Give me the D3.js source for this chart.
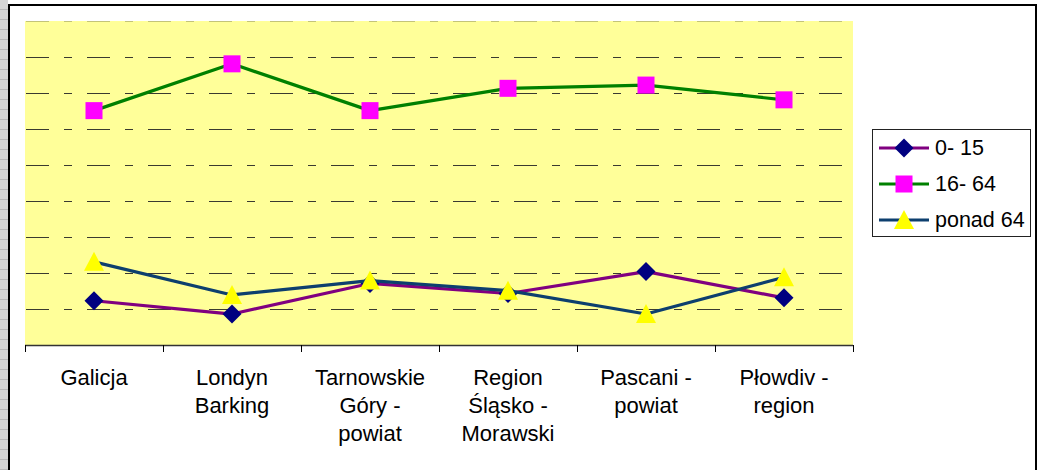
<!DOCTYPE html>
<html><head><meta charset="utf-8">
<script src="https://cdn.jsdelivr.net/npm/d3@7"></script>
<style>
body{margin:0;background:#fff;overflow:hidden;}
text{font-family:"Liberation Sans",Arial,sans-serif;fill:#000;}
</style>
</head><body><svg id="c" width="1040" height="470"></svg>
<script>
const categories = ["Galicja","Londyn Barking","Tarnowskie Góry - powiat","Region Śląsko - Morawski","Pascani - powiat","Płowdiv - region"];
const categoryLines = [["Galicja"],["Londyn","Barking"],["Tarnowskie","Góry -","powiat"],["Region","Śląsko -","Morawski"],["Pascani -","powiat"],["Płowdiv -","region"]];
const seriesNames = ["0- 15","16- 64","ponad 64"];
const values0_15 = [12.3, 8.6, 17.1, 14.3, 20.4, 13.1];
const values16_64 = [65.1, 78.1, 65.1, 71.3, 72.2, 68.1];
const valuesPonad64 = [23.1, 13.9, 17.9, 15.1, 8.6, 18.8];
const yTicks = [10,20,30,40,50,60,70,80,90];

const svg = d3.select("#c");
const plot = {l:25, t:21, r:853, b:345};

// spreadsheet strip at left
const pat = svg.append("defs").append("pattern").attr("id","grid").attr("width",8).attr("height",10).attr("patternUnits","userSpaceOnUse");
pat.append("rect").attr("width",8).attr("height",10).attr("fill","#d6d6d6");
pat.append("line").attr("x1",0).attr("x2",8).attr("y1",9.5).attr("y2",9.5).attr("stroke","#b8b8b8");
svg.append("rect").attr("x",0).attr("y",0).attr("width",8).attr("height",470).attr("fill","url(#grid)");

// chart frame
svg.append("rect").attr("x",9).attr("y",5).attr("width",1027).attr("height",480)
  .attr("fill","#fff").attr("stroke","#000").attr("stroke-width",2);

const x = d3.scaleBand().domain(categories).range([plot.l, plot.r]);
const y = d3.scaleLinear().domain([0,90]).range([plot.b, plot.t]);
const cx = c => x(c) + x.bandwidth()/2;

// plot area
svg.append("rect").attr("x",plot.l).attr("y",plot.t).attr("width",plot.r-plot.l).attr("height",plot.b-plot.t).attr("fill","#FFFF99");

// gridlines
svg.append("g").selectAll("line").data(yTicks).join("line")
  .attr("x1",plot.l+1).attr("x2",plot.r)
  .attr("y1",d=>Math.round(y(d))+0.5).attr("y2",d=>Math.round(y(d))+0.5)
  .attr("stroke","#3a3a30").attr("stroke-width",1.2)
  .attr("stroke-opacity",d=>d===90?0.3:1)
  .attr("stroke-dasharray","23,15,8,15");

// x axis
const axisG = svg.append("g").attr("transform",`translate(0,${plot.b})`);
axisG.append("line").attr("x1",plot.l).attr("x2",plot.r).attr("y1",0.5).attr("y2",0.5).attr("stroke","#333").attr("stroke-width",1.5);
const bounds = categories.map(c=>x(c)).concat([x(categories[categories.length-1])+x.bandwidth()]);
axisG.selectAll("line.tick").data(bounds).join("line").attr("class","tick")
  .attr("x1",d=>Math.round(d)+0.5).attr("x2",d=>Math.round(d)+0.5).attr("y1",0).attr("y2",7)
  .attr("stroke","#000").attr("stroke-width",1);
const lab = svg.append("g").selectAll("text").data(categories).join("text")
  .attr("x",d=>cx(d)).attr("y",385).attr("text-anchor","middle").attr("font-size",22);
lab.each(function(d,i){
  d3.select(this).selectAll("tspan").data(categoryLines[i]).join("tspan")
    .attr("x",cx(d)).attr("dy",(t,j)=>j===0?0:28).text(t=>t);
});

// markers
function diamond(g){ g.append("path").attr("d","M0,-9.5L9.5,0L0,9.5L-9.5,0Z").attr("fill","#000080"); }
function square(g){ g.append("rect").attr("x",-8.5).attr("y",-8.5).attr("width",17).attr("height",17).attr("fill","#FF00FF"); }
function triangle(g){ g.append("path").attr("d","M0,-10L10,9L-10,9Z").attr("fill","#FFFF00"); }

const series = [
  {name:seriesNames[0], vals:values0_15, line:"#800080", marker:diamond},
  {name:seriesNames[1], vals:values16_64, line:"#008000", marker:square},
  {name:seriesNames[2], vals:valuesPonad64, line:"#0D3F6E", marker:triangle}
];
const lineGen = d3.line().x((d,i)=>cx(categories[i])).y(d=>y(d));
series.forEach(s=>{
  svg.append("path").attr("d",lineGen(s.vals)).attr("fill","none").attr("stroke",s.line).attr("stroke-width",3.2).attr("stroke-linejoin","round");
  s.vals.forEach((v,i)=>{
    const g = svg.append("g").attr("transform",`translate(${cx(categories[i])},${y(v)})`);
    s.marker(g);
  });
});

// legend
const leg = svg.append("g");
leg.append("rect").attr("x",872.5).attr("y",129.5).attr("width",158).attr("height",107).attr("fill","#fff").attr("stroke","#222").attr("stroke-width",1);
series.forEach((s,i)=>{
  const cy = 148 + i*36;
  leg.append("line").attr("x1",879).attr("x2",929).attr("y1",cy).attr("y2",cy).attr("stroke",s.line).attr("stroke-width",3.2);
  const g = leg.append("g").attr("transform",`translate(904,${cy})`);
  s.marker(g);
  leg.append("text").attr("x",935).attr("y",cy+7).attr("font-size",21.5).text(s.name);
});
</script>
</body></html>
